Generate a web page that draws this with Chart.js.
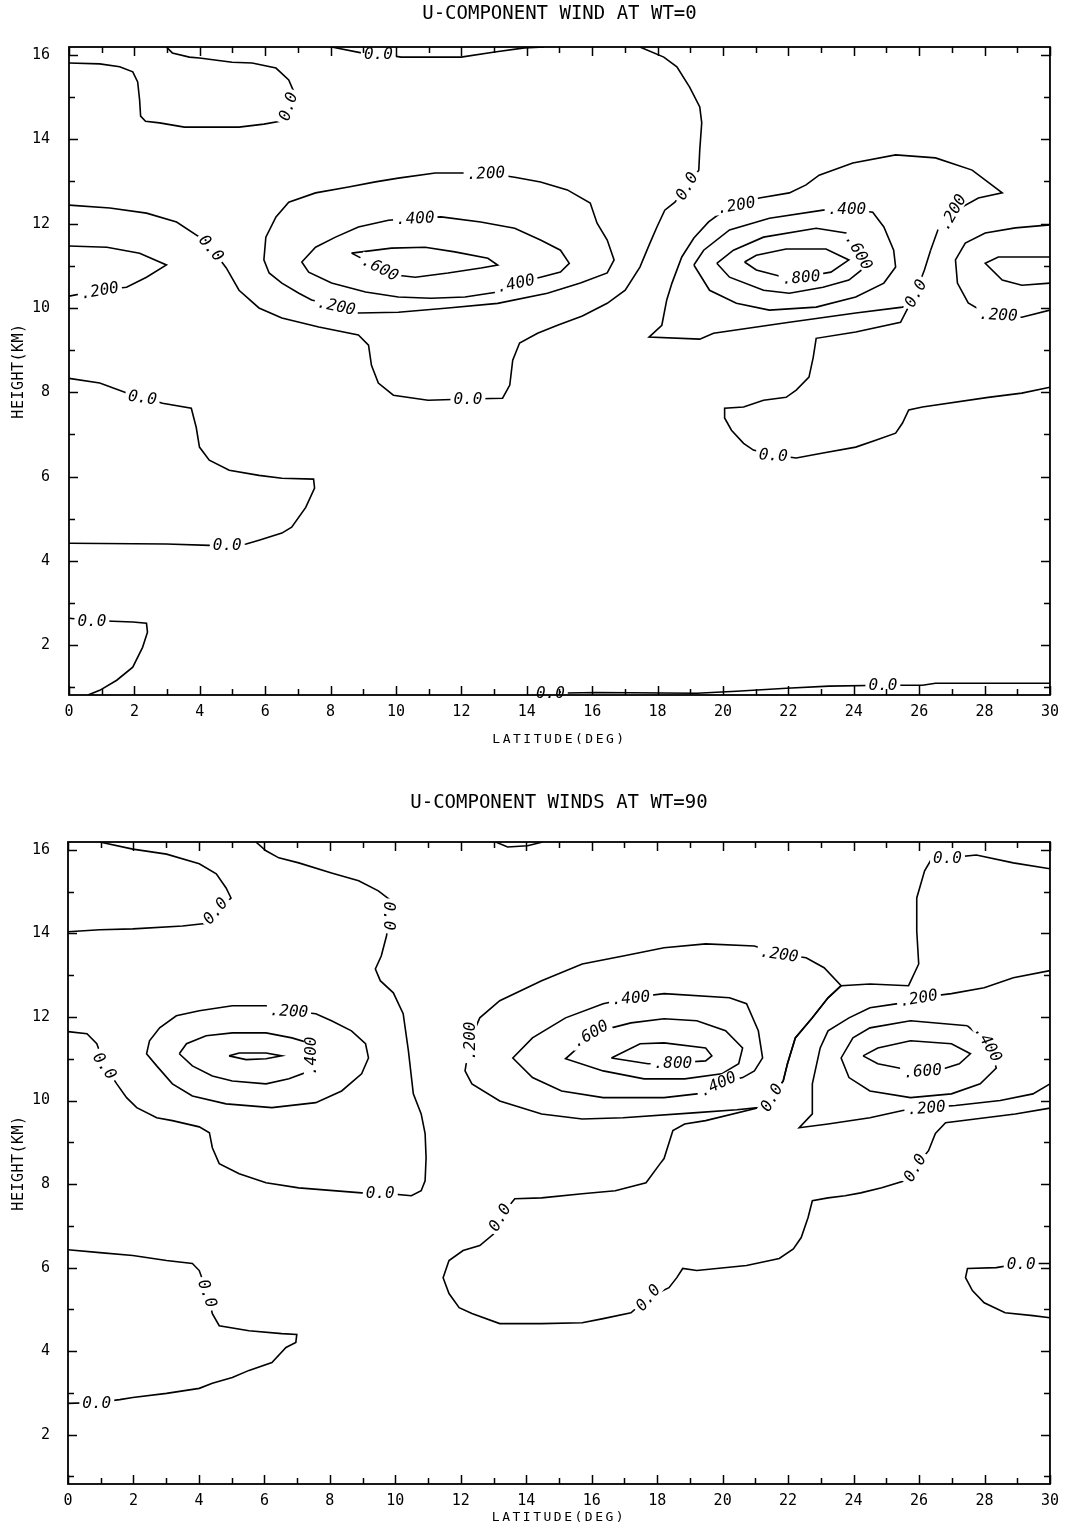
<!DOCTYPE html>
<html>
<head>
<meta charset="utf-8">
<title>U-component wind contours</title>
<script src="https://cdn.jsdelivr.net/npm/chart.js@4.4.1/dist/chart.umd.min.js"></script>
<style>
  html, body { margin: 0; padding: 0; background: #fff; }
  #wrap { position: relative; width: 1067px; height: 1534px; overflow: hidden; }
  canvas { position: absolute; left: 0; }
</style>
</head>
<body>
<div id="wrap">
  <canvas id="wt0" style="top:0px" width="1067" height="780"></canvas>
  <canvas id="wt90" style="top:780px" width="1067" height="754"></canvas>
</div>
<script>
// ---------- axes ----------
const LAT_TICKS = [0, 2, 4, 6, 8, 10, 12, 14, 16, 18, 20, 22, 24, 26, 28, 30];
const HEIGHT_TICKS = [2, 4, 6, 8, 10, 12, 14, 16];
const LAT_RANGE = [0, 30];
const HEIGHT_RANGE = [0.82, 16.19];

const TITLE_WT0 = 'U-COMPONENT WIND AT WT=0';
const TITLE_WT90 = 'U-COMPONENT WINDS AT WT=90';
const X_TITLE = 'LATITUDE(DEG)';
const Y_TITLE = 'HEIGHT(KM)';

// ---------- WT=0 contour lines, [latitude, height] ----------
const wt0_zero_a = [[0,15.81],[0.94,15.79],[1.55,15.72],[1.95,15.6],[2.1,15.36],[2.16,14.93],[2.19,14.55],[2.34,14.43],[2.77,14.39],[3.53,14.29],[5.2,14.29],[5.96,14.36],[6.45,14.43],[6.7,14.78],[6.88,15.12],[6.72,15.41],[6.33,15.69],[5.6,15.81],[4.99,15.83],[3.99,15.93],[3.68,15.95],[3.16,16.05],[2.98,16.19]];
const wt0_zero_b = [[8.03,16.19],[8.94,16.05],[9.46,16.03],[10.16,15.95],[11.99,15.95],[13.02,16.07],[13.93,16.17],[14.54,16.19]];
const wt0_zero_c = [[0,12.44],[1.25,12.37],[2.37,12.25],[3.29,12.04],[3.99,11.68],[4.35,11.42],[4.81,10.95],[5.2,10.42],[5.81,10.0],[6.51,9.76],[7.64,9.55],[8.85,9.36],[9.16,9.12],[9.25,8.64],[9.46,8.22],[9.92,7.93],[10.98,7.81],[12.2,7.84],[13.26,7.86],[13.48,8.17],[13.57,8.76],[13.78,9.17],[14.33,9.4],[14.94,9.59],[15.7,9.81],[16.46,10.11],[17.01,10.42],[17.46,10.97],[17.74,11.49],[17.98,11.92],[18.22,12.32],[18.53,12.51],[18.89,12.89],[19.26,13.27],[19.29,13.75],[19.35,14.39],[19.29,14.77],[18.98,15.24],[18.59,15.72],[18.19,15.95],[17.46,16.19]];
const wt0_zero_d = [[0,2.64],[0.7,2.59],[1.34,2.57],[1.95,2.55],[2.37,2.52],[2.4,2.31],[2.25,1.95],[1.95,1.48],[1.46,1.17],[0.94,0.93],[0.58,0.82]];
const wt0_zero_e = [[14.18,0.82],[14.72,0.86],[16.15,0.88],[19.2,0.86],[20.41,0.91],[21.94,0.98],[23.24,1.03],[24.89,1.05],[26.1,1.05],[26.5,1.1],[30,1.1]];
const wt0_zero_f = [[0,8.33],[0.94,8.22],[1.79,7.98],[2.25,7.88],[2.86,7.74],[3.74,7.62],[3.89,7.17],[3.99,6.7],[4.29,6.39],[4.9,6.15],[5.81,6.03],[6.51,5.96],[7.48,5.94],[7.51,5.73],[7.24,5.27],[6.81,4.8],[6.51,4.66],[5.81,4.49],[5.42,4.4],[4.84,4.37],[4.29,4.37],[2.98,4.4],[0,4.42]];
const wt0_zero_g = [[30,8.12],[29.14,7.98],[28.11,7.88],[26.1,7.65],[25.68,7.58],[25.49,7.27],[25.28,7.03],[24.67,6.86],[24.06,6.7],[23.06,6.56],[22.24,6.44],[21.54,6.51],[20.93,6.63],[20.63,6.79],[20.26,7.1],[20.05,7.39],[20.05,7.62],[20.63,7.65],[21.24,7.81],[21.93,7.88],[22.24,8.05],[22.63,8.36],[22.76,8.83],[22.85,9.28],[24.06,9.43],[25.43,9.66],[25.89,10.35],[26.16,10.9],[26.35,11.37]];
const wt0_p2_left = [[0,11.47],[1.16,11.44],[2.16,11.3],[2.98,11.02],[2.37,10.73],[1.76,10.49],[0.94,10.42],[0,10.28]];
const wt0_p2_mid = [[13.63,13.1],[14.42,12.99],[15.24,12.8],[15.94,12.49],[16.15,12.01],[16.46,11.61],[16.67,11.14],[16.46,10.83],[15.64,10.59],[14.63,10.35],[13.11,10.11],[11.59,10.0],[10.07,9.9],[8.85,9.88],[8.18,10.05],[7.42,10.19],[7.03,10.35],[6.51,10.59],[6.12,10.83],[5.96,11.14],[6.02,11.68],[6.33,12.16],[6.72,12.51],[7.54,12.73],[8.55,12.87],[9.37,12.99],[10.07,13.08],[11.2,13.2],[11.99,13.2],[12.75,13.2],[13.63,13.1]];
const wt0_p4_mid = [[11.38,12.16],[12.59,12.04],[13.63,11.89],[14.42,11.61],[15.03,11.37],[15.3,11.06],[15.03,10.85],[14.42,10.73],[13.66,10.59],[13.11,10.38],[12.11,10.26],[11.07,10.23],[10.07,10.26],[9.07,10.38],[8.03,10.59],[7.33,10.85],[7.12,11.09],[7.54,11.44],[8.15,11.68],[8.85,11.92],[9.77,12.08],[10.59,12.13],[11.38,12.16]];
const wt0_p6_mid = [[8.64,11.3],[9.86,11.42],[10.89,11.44],[11.8,11.33],[12.81,11.18],[13.11,11.02],[12.6,10.95],[11.59,10.83],[10.59,10.73],[9.98,10.78],[9.52,10.95],[8.64,11.3]];
const wt0_p2_right = [[26.35,11.37],[26.59,11.89],[27.02,12.27],[27.81,12.61],[28.54,12.73],[27.62,13.27],[26.5,13.56],[25.28,13.63],[23.97,13.44],[22.94,13.15],[22.54,12.92],[22.03,12.73],[21.11,12.61],[20.41,12.44],[19.96,12.27],[19.56,12.04],[19.11,11.66],[18.74,11.21],[18.44,10.59],[18.28,10.19],[18.13,9.59],[17.74,9.31],[19.29,9.26],[19.71,9.4],[22.03,9.66],[24.06,9.88],[25.49,10.02],[25.71,10.19]];
const wt0_p4_right = [[19.11,11.02],[19.41,11.37],[20.2,11.85],[21.42,12.13],[23.06,12.32],[23.79,12.35],[24.58,12.27],[24.92,11.92],[25.22,11.37],[25.28,10.97],[24.92,10.59],[24.06,10.26],[22.85,10.02],[21.42,9.95],[20.41,10.11],[19.59,10.42],[19.11,11.02]];
const wt0_p6_right = [[19.81,11.06],[20.32,11.37],[21.24,11.68],[22.85,11.89],[23.76,11.78],[24.16,11.33],[24.43,11.02],[23.85,10.66],[23.06,10.49],[22.03,10.35],[21.24,10.42],[20.2,10.73],[19.81,11.06]];
const wt0_p8_right = [[20.66,11.09],[21.02,11.25],[21.93,11.4],[23.15,11.4],[23.85,11.14],[23.3,10.85],[22.39,10.73],[21.72,10.76],[21.02,10.9],[20.66,11.09]];
const wt0_p2_edge = [[30,11.97],[28.94,11.9],[28.02,11.78],[27.41,11.54],[27.11,11.14],[27.17,10.59],[27.5,10.12],[28.02,9.88],[28.42,9.83],[29.14,9.78],[30,9.95]];
const wt0_p4_edge = [[30,11.21],[28.42,11.21],[28.02,11.06],[28.54,10.66],[29.14,10.54],[30,10.59]];

// contour labels: [latitude, height, level]
const wt0_labels = [[6.7,14.78,0],[9.46,16.03,0],[4.35,11.42,0],[12.2,7.84,0],[18.89,12.89,0],[0.7,2.59,0],[14.72,0.87,0],[24.89,1.05,0],[2.25,7.88,0],[4.84,4.37,0],[21.54,6.51,0],[25.89,10.35,0],
  [0.94,10.42,0.2],[12.75,13.2,0.2],[8.18,10.05,0.2],[10.59,12.13,0.4],[13.66,10.59,0.4],[9.52,10.95,0.6],
  [20.41,12.44,0.2],[27.02,12.27,0.2],[28.42,9.84,0.2],[23.79,12.35,0.4],[24.16,11.33,0.6],[22.39,10.73,0.8]];
const wt0_label_tilt = [-72,0,50,0,-60,0,0,0,8,0,4,-62, -10,-3,12,-3,-12,27, -10,-60,3,0,60,-5];

// ---------- WT=90 contour lines ----------
const wt90_zero_a = [[0.97,16.19],[1.98,16.02],[3.01,15.9],[4.01,15.67],[4.53,15.43],[4.83,15.09],[4.98,14.85],[4.56,14.54],[4.32,14.25],[3.5,14.18],[1.98,14.11],[0.97,14.09],[0,14.04]];
const wt90_zero_b = [[5.74,16.19],[6.05,15.98],[6.44,15.81],[7.05,15.69],[8.05,15.45],[8.88,15.26],[9.48,15.02],[9.88,14.78],[9.82,14.42],[9.73,13.94],[9.57,13.46],[9.39,13.15],[9.54,12.87],[9.94,12.58],[10.24,12.08],[10.4,11.19],[10.55,10.16],[10.79,9.68],[10.91,9.21],[10.94,8.63],[10.91,8.08],[10.79,7.84],[10.49,7.72],[9.54,7.79],[8.97,7.79],[7.05,7.91],[6.05,8.03],[5.23,8.25],[4.62,8.49],[4.41,8.87],[4.32,9.23],[4.01,9.37],[3.19,9.52],[2.71,9.59],[2.1,9.83],[1.79,10.07],[1.49,10.4],[1.12,10.83],[0.88,11.36],[0.58,11.6],[0,11.65]];
const wt90_zero_c = [[0,6.43],[0.97,6.36],[1.98,6.29],[3.01,6.17],[3.8,6.1],[4.01,5.93],[4.26,5.38],[4.41,4.9],[4.62,4.61],[5.53,4.49],[6.53,4.42],[6.99,4.4],[6.96,4.21],[6.66,4.09],[6.23,3.73],[5.53,3.54],[5.02,3.37],[4.41,3.23],[4.01,3.11],[3.01,2.99],[1.98,2.89],[1.58,2.84],[0.88,2.77],[0,2.75]];
const wt90_zero_d = [[30,15.55],[28.88,15.69],[27.75,15.88],[26.87,15.81],[26.35,15.74],[26.17,15.5],[25.93,14.85],[25.93,14.06],[25.99,13.27],[25.68,12.75],[24.5,12.79],[23.62,12.75],[23.22,12.46],[22.74,11.98],[22.22,11.5],[21.98,10.88],[21.85,10.47],[21.49,10.07],[21.09,9.83],[19.48,9.52],[18.84,9.44],[18.48,9.28],[18.21,8.61],[18.09,8.49],[17.66,8.03],[16.72,7.84],[15.71,7.77],[14.47,7.67],[13.65,7.65],[13.19,7.2],[13.01,6.81],[12.58,6.53],[12.07,6.41],[11.64,6.17],[11.46,5.76],[11.64,5.38],[11.95,5.04],[12.34,4.9],[13.19,4.66],[14.47,4.66],[15.71,4.68],[16.35,4.78],[17.2,4.92],[17.72,5.28],[18.36,5.52],[18.6,5.76],[18.78,5.98],[19.21,5.93],[20.73,6.05],[21.73,6.22],[22.16,6.45],[22.4,6.72],[22.61,7.2],[22.74,7.6],[23.22,7.67],[23.74,7.72],[24.22,7.79],[24.86,7.91],[25.56,8.08],[25.87,8.39],[26.29,8.8],[26.5,9.21],[26.81,9.47],[27.72,9.56],[28.94,9.68],[30,9.82]];
const wt90_zero_e = [[30,6.1],[29.12,6.1],[28.36,6.0],[27.48,5.98],[27.42,5.76],[27.63,5.45],[27.99,5.16],[28.63,4.92],[29.48,4.85],[30,4.8]];
const wt90_zero_f = [[13.07,16.19],[13.43,16.07],[14.04,16.1],[14.5,16.19]];
const wt90_p2_left = [[6.75,12.15],[6.05,12.27],[5.02,12.27],[4.01,12.15],[3.31,12.03],[2.8,11.74],[2.49,11.43],[2.4,11.12],[2.71,10.83],[3.19,10.4],[3.8,10.11],[4.83,9.92],[6.23,9.83],[7.57,9.95],[8.36,10.23],[8.97,10.64],[9.18,11.02],[9.09,11.36],[8.66,11.67],[8.05,11.91],[7.57,12.08],[6.75,12.15]];
const wt90_p4_left = [[3.4,11.12],[3.62,11.36],[4.22,11.55],[5.02,11.62],[6.05,11.62],[6.84,11.5],[7.36,11.38],[7.42,11.07],[7.26,10.67],[6.75,10.52],[6.05,10.4],[5.02,10.47],[4.41,10.59],[3.8,10.83],[3.4,11.12]];
const wt90_p6_left = [[4.92,11.07],[5.23,11.14],[6.05,11.14],[6.53,11.07],[6.05,11.0],[5.44,10.98],[4.92,11.07]];
const wt90_p2_mid = [[21.73,13.51],[22.55,13.42],[23.1,13.18],[23.62,12.75],[23.22,12.46],[22.74,11.98],[22.22,11.5],[21.98,10.88],[21.85,10.47],[21.49,10.07],[21.09,9.83],[20.43,9.78],[19.21,9.71],[16.96,9.59],[15.71,9.56],[14.47,9.68],[13.19,9.99],[12.34,10.4],[12.13,10.71],[12.28,11.43],[12.58,11.98],[13.19,12.39],[14.47,12.87],[15.71,13.27],[16.96,13.46],[18.21,13.66],[19.48,13.75],[20.97,13.7],[21.73,13.51]];
const wt90_p4_mid = [[17.2,12.46],[18.21,12.56],[20.21,12.46],[20.73,12.32],[21.09,11.67],[21.22,11.02],[20.97,10.71],[20.61,10.55],[19.85,10.4],[19.21,10.16],[18.21,10.07],[16.35,10.07],[15.08,10.23],[14.19,10.55],[13.59,11.02],[14.19,11.5],[15.2,11.98],[16.35,12.32],[17.2,12.46]];
const wt90_p6_mid = [[15.96,11.6],[16.6,11.74],[17.2,11.86],[18.21,11.96],[19.21,11.91],[20.09,11.67],[20.61,11.26],[20.49,10.88],[19.97,10.64],[18.84,10.52],[17.6,10.52],[16.35,10.71],[15.2,11.0],[15.47,11.19],[15.96,11.6]];
const wt90_p8_mid = [[16.6,11.02],[17.48,11.36],[18.21,11.38],[19.48,11.26],[19.67,11.07],[19.48,10.95],[18.48,10.9],[17.72,10.88],[16.6,11.02]];
const wt90_p2_right = [[30,13.11],[28.88,12.94],[27.99,12.7],[26.99,12.56],[25.99,12.46],[25.35,12.32],[24.5,12.22],[23.86,11.98],[23.22,11.67],[22.98,11.26],[22.74,10.4],[22.74,9.68],[22.34,9.35],[23.22,9.44],[24.5,9.59],[25.5,9.76],[26.23,9.83],[27.11,9.88],[28.48,10.0],[29.48,10.16],[30,10.4]];
const wt90_p4_right = [[27.48,11.79],[25.74,11.91],[24.5,11.74],[23.98,11.5],[23.62,11.02],[23.86,10.55],[24.5,10.23],[25.74,10.07],[26.99,10.16],[27.87,10.4],[28.36,10.78],[28.12,11.36],[27.48,11.79]];
const wt90_p6_right = [[24.29,11.07],[24.74,11.26],[25.74,11.43],[26.99,11.36],[27.57,11.12],[27.23,10.88],[26.75,10.76],[26.11,10.71],[25.5,10.76],[24.74,10.88],[24.29,11.07]];

const wt90_labels = [[4.5,14.54,0],[9.82,14.42,0],[9.54,7.79,0],[1.12,10.83,0],[4.26,5.38,0],[0.88,2.77,0],[26.87,15.81,0],[21.49,10.07,0],[13.19,7.2,0],[17.72,5.28,0],[25.87,8.39,0],[29.12,6.1,0],
  [6.75,12.15,0.2],[7.42,11.07,0.4],[21.73,13.51,0.2],[12.28,11.43,0.2],[17.2,12.46,0.4],[19.85,10.4,0.4],[15.96,11.6,0.6],[18.48,10.9,0.8],
  [25.99,12.46,0.2],[26.23,9.83,0.2],[28.12,11.36,0.4],[26.11,10.71,0.6]];
const wt90_label_tilt = [-50,90,0,55,70,0,0,-60,-60,-50,-60,0, 3,-90,8,-90,-5,-25,-30,0, -10,-5,60,-5];

// ---------- line tables (level, points) ----------
const WT0_LINES = [
  [0, wt0_zero_a], [0, wt0_zero_b], [0, wt0_zero_c], [0, wt0_zero_d], [0, wt0_zero_e], [0, wt0_zero_f], [0, wt0_zero_g],
  [0.2, wt0_p2_left], [0.2, wt0_p2_mid], [0.4, wt0_p4_mid], [0.6, wt0_p6_mid],
  [0.2, wt0_p2_right], [0.4, wt0_p4_right], [0.6, wt0_p6_right], [0.8, wt0_p8_right],
  [0.2, wt0_p2_edge], [0.4, wt0_p4_edge]
];
const WT90_LINES = [
  [0, wt90_zero_a], [0, wt90_zero_b], [0, wt90_zero_c], [0, wt90_zero_d], [0, wt90_zero_e], [0, wt90_zero_f],
  [0.2, wt90_p2_left], [0.4, wt90_p4_left], [0.6, wt90_p6_left],
  [0.2, wt90_p2_mid], [0.4, wt90_p4_mid], [0.6, wt90_p6_mid], [0.8, wt90_p8_mid],
  [0.2, wt90_p2_right], [0.4, wt90_p4_right], [0.6, wt90_p6_right]
];

const FONT = "'DejaVu Sans Mono', 'Liberation Mono', monospace";

function levelText(v) {
  if (v === 0) return '0.0';
  return '.' + String(Math.round(v * 1000)).padStart(3, '0');
}

// contour labels sit on a white patch so the line appears broken under them;
// the frame, inward ticks and titles are drawn last
const contourDecor = {
  id: 'contourDecor',
  afterDatasetsDraw(chart, args, opts) {
    const { ctx, scales: { x, y } } = chart;
    ctx.save();
    ctx.font = 'italic 16px ' + FONT;
    ctx.textAlign = 'center';
    ctx.textBaseline = 'middle';
    opts.labels.forEach((lb, i) => {
      const px = x.getPixelForValue(lb[0]);
      const py = y.getPixelForValue(lb[1]);
      const txt = levelText(lb[2]);
      const w = ctx.measureText(txt).width;
      ctx.save();
      ctx.translate(px, py);
      ctx.rotate((opts.tilts[i] || 0) * Math.PI / 180);
      ctx.fillStyle = '#fff';
      ctx.fillRect(-w / 2 - 3, -7, w + 6, 14);
      ctx.fillStyle = '#000';
      ctx.fillText(txt, 0, 1);
      ctx.restore();
    });
    ctx.restore();
  },
  afterDraw(chart, args, opts) {
    const { ctx, chartArea: a, scales: { x, y } } = chart;
    ctx.save();
    ctx.strokeStyle = '#000';
    ctx.lineWidth = 1.8;
    ctx.strokeRect(a.left, a.top, a.right - a.left, a.bottom - a.top);
    ctx.lineWidth = 1.5;
    ctx.beginPath();
    for (let v = Math.ceil(x.min); v <= x.max; v++) {
      const p = Math.round(x.getPixelForValue(v)) + 0.5;
      const len = v % 2 === 0 ? 9 : 6;
      ctx.moveTo(p, a.bottom); ctx.lineTo(p, a.bottom - len);
      ctx.moveTo(p, a.top); ctx.lineTo(p, a.top + len);
    }
    for (let v = Math.ceil(y.min); v <= y.max; v++) {
      const p = Math.round(y.getPixelForValue(v)) + 0.5;
      const len = v % 2 === 0 ? 9 : 6;
      ctx.moveTo(a.left, p); ctx.lineTo(a.left + len, p);
      ctx.moveTo(a.right, p); ctx.lineTo(a.right - len, p);
    }
    ctx.stroke();

    ctx.fillStyle = '#000';
    ctx.textAlign = 'center';
    ctx.textBaseline = 'middle';
    ctx.font = '19px ' + FONT;
    ctx.fillText(opts.title, (a.left + a.right) / 2, opts.titleY);
    ctx.font = '13px ' + FONT;
    ctx.letterSpacing = '2.5px';
    ctx.fillText(X_TITLE, (a.left + a.right) / 2, opts.xTitleY);
    ctx.translate(opts.yTitleX, (a.top + a.bottom) / 2);
    ctx.rotate(-Math.PI / 2);
    ctx.letterSpacing = '0.5px';
    ctx.font = '15px ' + FONT;
    ctx.fillText(Y_TITLE, 0, 0);
    ctx.restore();
  }
};

function buildChart(id, lines, labels, tilts, L) {
  const datasets = lines.map(([level, pts]) => ({
    label: String(level),
    data: pts.map(p => ({ x: p[0], y: p[1] })),
    showLine: true,
    borderColor: '#000',
    borderWidth: 1.6,
    pointRadius: 0,
    pointHoverRadius: 0,
    fill: false,
    tension: 0
  }));
  return new Chart(document.getElementById(id), {
    type: 'scatter',
    data: { datasets },
    plugins: [contourDecor],
    options: {
      responsive: false,
      animation: false,
      events: [],
      layout: { padding: { top: L.top, right: 1067 - L.right, left: 0, bottom: L.height - L.bottom - 30 } },
      plugins: {
        legend: { display: false },
        tooltip: { enabled: false },
        title: { display: false },
        contourDecor: { labels, tilts, title: L.title, titleY: L.titleY, xTitleY: L.xTitleY, yTitleX: 19 }
      },
      scales: {
        x: {
          type: 'linear', min: LAT_RANGE[0], max: LAT_RANGE[1],
          afterBuildTicks: s => { s.ticks = LAT_TICKS.map(v => ({ value: v })); },
          afterFit: s => { s.height = 30; },
          grid: { display: false, drawTicks: false },
          border: { display: false },
          ticks: { padding: 8, color: '#000', font: { family: FONT, size: 15 }, maxRotation: 0, autoSkip: false }
        },
        y: {
          type: 'linear', min: HEIGHT_RANGE[0], max: HEIGHT_RANGE[1],
          afterBuildTicks: s => { s.ticks = HEIGHT_TICKS.map(v => ({ value: v })); },
          afterFit: s => { s.width = L.left; },
          grid: { display: false, drawTicks: false },
          border: { display: false },
          ticks: { padding: L.left - 50, color: '#000', font: { family: FONT, size: 15 }, autoSkip: false }
        }
      }
    }
  });
}

buildChart('wt0', WT0_LINES, wt0_labels, wt0_label_tilt,
  { height: 780, top: 47, bottom: 695, left: 69, right: 1055, title: TITLE_WT0, titleY: 14, xTitleY: 740 });
buildChart('wt90', WT90_LINES, wt90_labels, wt90_label_tilt,
  { height: 754, top: 62, bottom: 704, left: 68, right: 1055, title: TITLE_WT90, titleY: 23, xTitleY: 738 });
</script>
</body>
</html>
